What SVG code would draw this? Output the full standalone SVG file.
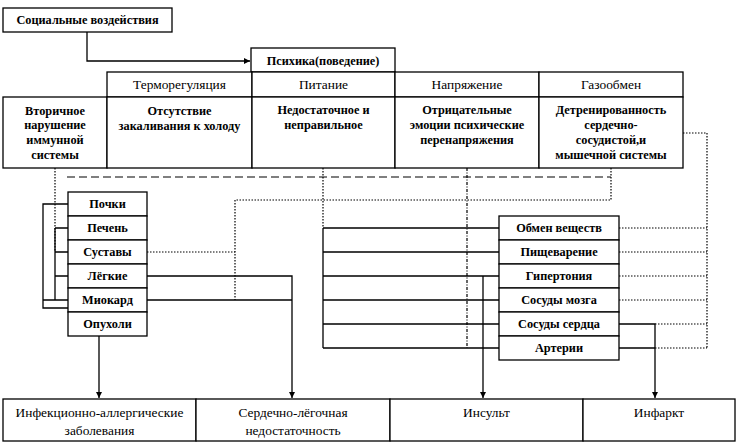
<svg xmlns="http://www.w3.org/2000/svg" width="739" height="448" viewBox="0 0 739 448">
<style>
.b{fill:#fff;stroke:#000;stroke-width:1.3}
text{fill:#000;text-anchor:middle}
.bd{font-weight:bold;font-size:12.3px}
.r{font-size:13.4px}
.s{fill:none;stroke:#000;stroke-width:1.3}
.d{fill:none;stroke:#000;stroke-width:1.2;stroke-dasharray:1.5,1.5}
.dd{fill:none;stroke:#000;stroke-width:1.2;stroke-dasharray:8,4}
.dc{fill:none;stroke:#000;stroke-width:1.2;stroke-dasharray:3,1.5,1,1.5}
</style>
<defs>
<marker id="a" viewBox="0 0 10 10" refX="10" refY="5" markerWidth="6" markerHeight="6" orient="auto" markerUnits="userSpaceOnUse"><path d="M0,0 L10,5 L0,10 z" fill="#000"/></marker>
</defs>
<rect width="739" height="448" fill="#fff"/>
<g id="connectors">
<path class="s" d="M87,32 V61 H250" marker-end="url(#a)"/>
<path class="dd" d="M67,177 H611"/>
<path class="d" d="M611,168 V200 H235 V300"/>
<path class="d" d="M147,252 H235"/>
<path class="d" d="M55,168 V252"/>
<path class="s" d="M68,204 H43 V308 H99 V398" marker-end="url(#a)"/>
<path class="s" d="M43,300 H68 M55,228 V300 M55,228 H68 M55,252 H68 M55,276 H68"/>
<path class="s" d="M147,276 H292 V398" marker-end="url(#a)"/>
<path class="s" d="M147,300 H292"/>
<path class="d" d="M323,168 V228"/>
<path class="s" d="M323,228 V348 M323,228 H499 M323,252 H499 M323,276 H499 M323,300 H499 M323,324 H499 M323,348 H499"/>
<path class="dc" d="M467,168 V348"/>
<path class="s" d="M483,276 V398" marker-end="url(#a)"/>
<path class="d" d="M683,133 H707 V348 M619,228 H707 M619,252 H707 M619,276 H707 M619,300 H707 M655,324 H707 M655,348 H707"/>
<path class="s" d="M619,324 H655 V398" marker-end="url(#a)"/>
<path class="s" d="M619,348 H655"/>
</g>
<g font-family="Liberation Serif, DejaVu Serif, serif">
<g id="social"><rect class="b" x="3" y="8" width="169" height="24"/><text class="bd" x="87.5" y="24">Социальные воздействия</text></g>
<g id="psyche"><rect class="b" x="251" y="48" width="144" height="24"/><text class="bd" x="323" y="65">Психика(поведение)</text></g>
<g id="header">
<rect class="b" x="107" y="72" width="145" height="25"/><text class="r" x="179.5" y="89">Терморегуляция</text>
<rect class="b" x="252" y="72" width="143" height="25"/><text class="r" x="323.5" y="89">Питание</text>
<rect class="b" x="395" y="72" width="144" height="25"/><text class="r" x="467" y="89">Напряжение</text>
<rect class="b" x="539" y="72" width="144" height="25"/><text class="r" x="611" y="89">Газообмен</text>
</g>
<g id="immune"><rect class="b" x="3" y="97" width="104" height="71"/><text class="bd" x="55" y="115">Вторичное</text><text class="bd" x="55" y="129">нарушение</text><text class="bd" x="55" y="144">иммунной</text><text class="bd" x="55" y="159">системы</text></g>
<g id="cold"><rect class="b" x="107" y="97" width="145" height="71"/><text class="bd" x="179.5" y="115">Отсутствие</text><text class="bd" x="179.5" y="130">закаливания к холоду</text></g>
<g id="food"><rect class="b" x="252" y="97" width="143" height="71"/><text class="bd" x="323.5" y="114">Недостаточное и</text><text class="bd" x="323.5" y="129">неправильное</text></g>
<g id="stress"><rect class="b" x="395" y="97" width="144" height="71"/><text class="bd" x="467" y="114">Отрицательные</text><text class="bd" x="467" y="129">эмоции психические</text><text class="bd" x="467" y="144">перенапряжения</text></g>
<g id="gas"><rect class="b" x="539" y="97" width="144" height="71"/><text class="bd" x="611" y="114">Детренированность</text><text class="bd" x="611" y="129">сердечно-</text><text class="bd" x="611" y="144">сосудистой,и</text><text class="bd" x="611" y="159">мышечной системы</text></g>
<g id="organs">
<rect class="b" x="68" y="192" width="79" height="24"/><text class="bd" x="107.5" y="208">Почки</text>
<rect class="b" x="68" y="216" width="79" height="24"/><text class="bd" x="107.5" y="232">Печень</text>
<rect class="b" x="68" y="240" width="79" height="24"/><text class="bd" x="107.5" y="256">Суставы</text>
<rect class="b" x="68" y="264" width="79" height="24"/><text class="bd" x="107.5" y="280">Лёгкие</text>
<rect class="b" x="68" y="288" width="79" height="24"/><text class="bd" x="107.5" y="304">Миокард</text>
<rect class="b" x="68" y="312" width="79" height="24"/><text class="bd" x="107.5" y="328">Опухоли</text>
</g>
<g id="systems">
<rect class="b" x="499" y="216" width="120" height="24"/><text class="bd" x="559" y="232">Обмен веществ</text>
<rect class="b" x="499" y="240" width="120" height="24"/><text class="bd" x="559" y="256">Пищеварение</text>
<rect class="b" x="499" y="264" width="120" height="24"/><text class="bd" x="559" y="280">Гипертония</text>
<rect class="b" x="499" y="288" width="120" height="24"/><text class="bd" x="559" y="304">Сосуды мозга</text>
<rect class="b" x="499" y="312" width="120" height="24"/><text class="bd" x="559" y="328">Сосуды сердца</text>
<rect class="b" x="499" y="336" width="120" height="24"/><text class="bd" x="559" y="352">Артерии</text>
</g>
<g id="outcomes">
<rect class="b" x="3" y="399" width="193" height="42"/><text class="r" x="99.5" y="417">Инфекционно-аллергические</text><text class="r" x="99.5" y="435">заболевания</text>
<rect class="b" x="196" y="399" width="194" height="42"/><text class="r" x="293" y="417">Сердечно-лёгочная</text><text class="r" x="293" y="435">недостаточность</text>
<rect class="b" x="390" y="399" width="193" height="42"/><text class="r" x="486.5" y="417">Инсульт</text>
<rect class="b" x="583" y="399" width="152" height="42"/><text class="r" x="659" y="417">Инфаркт</text>
</g>
</g>
</svg>
